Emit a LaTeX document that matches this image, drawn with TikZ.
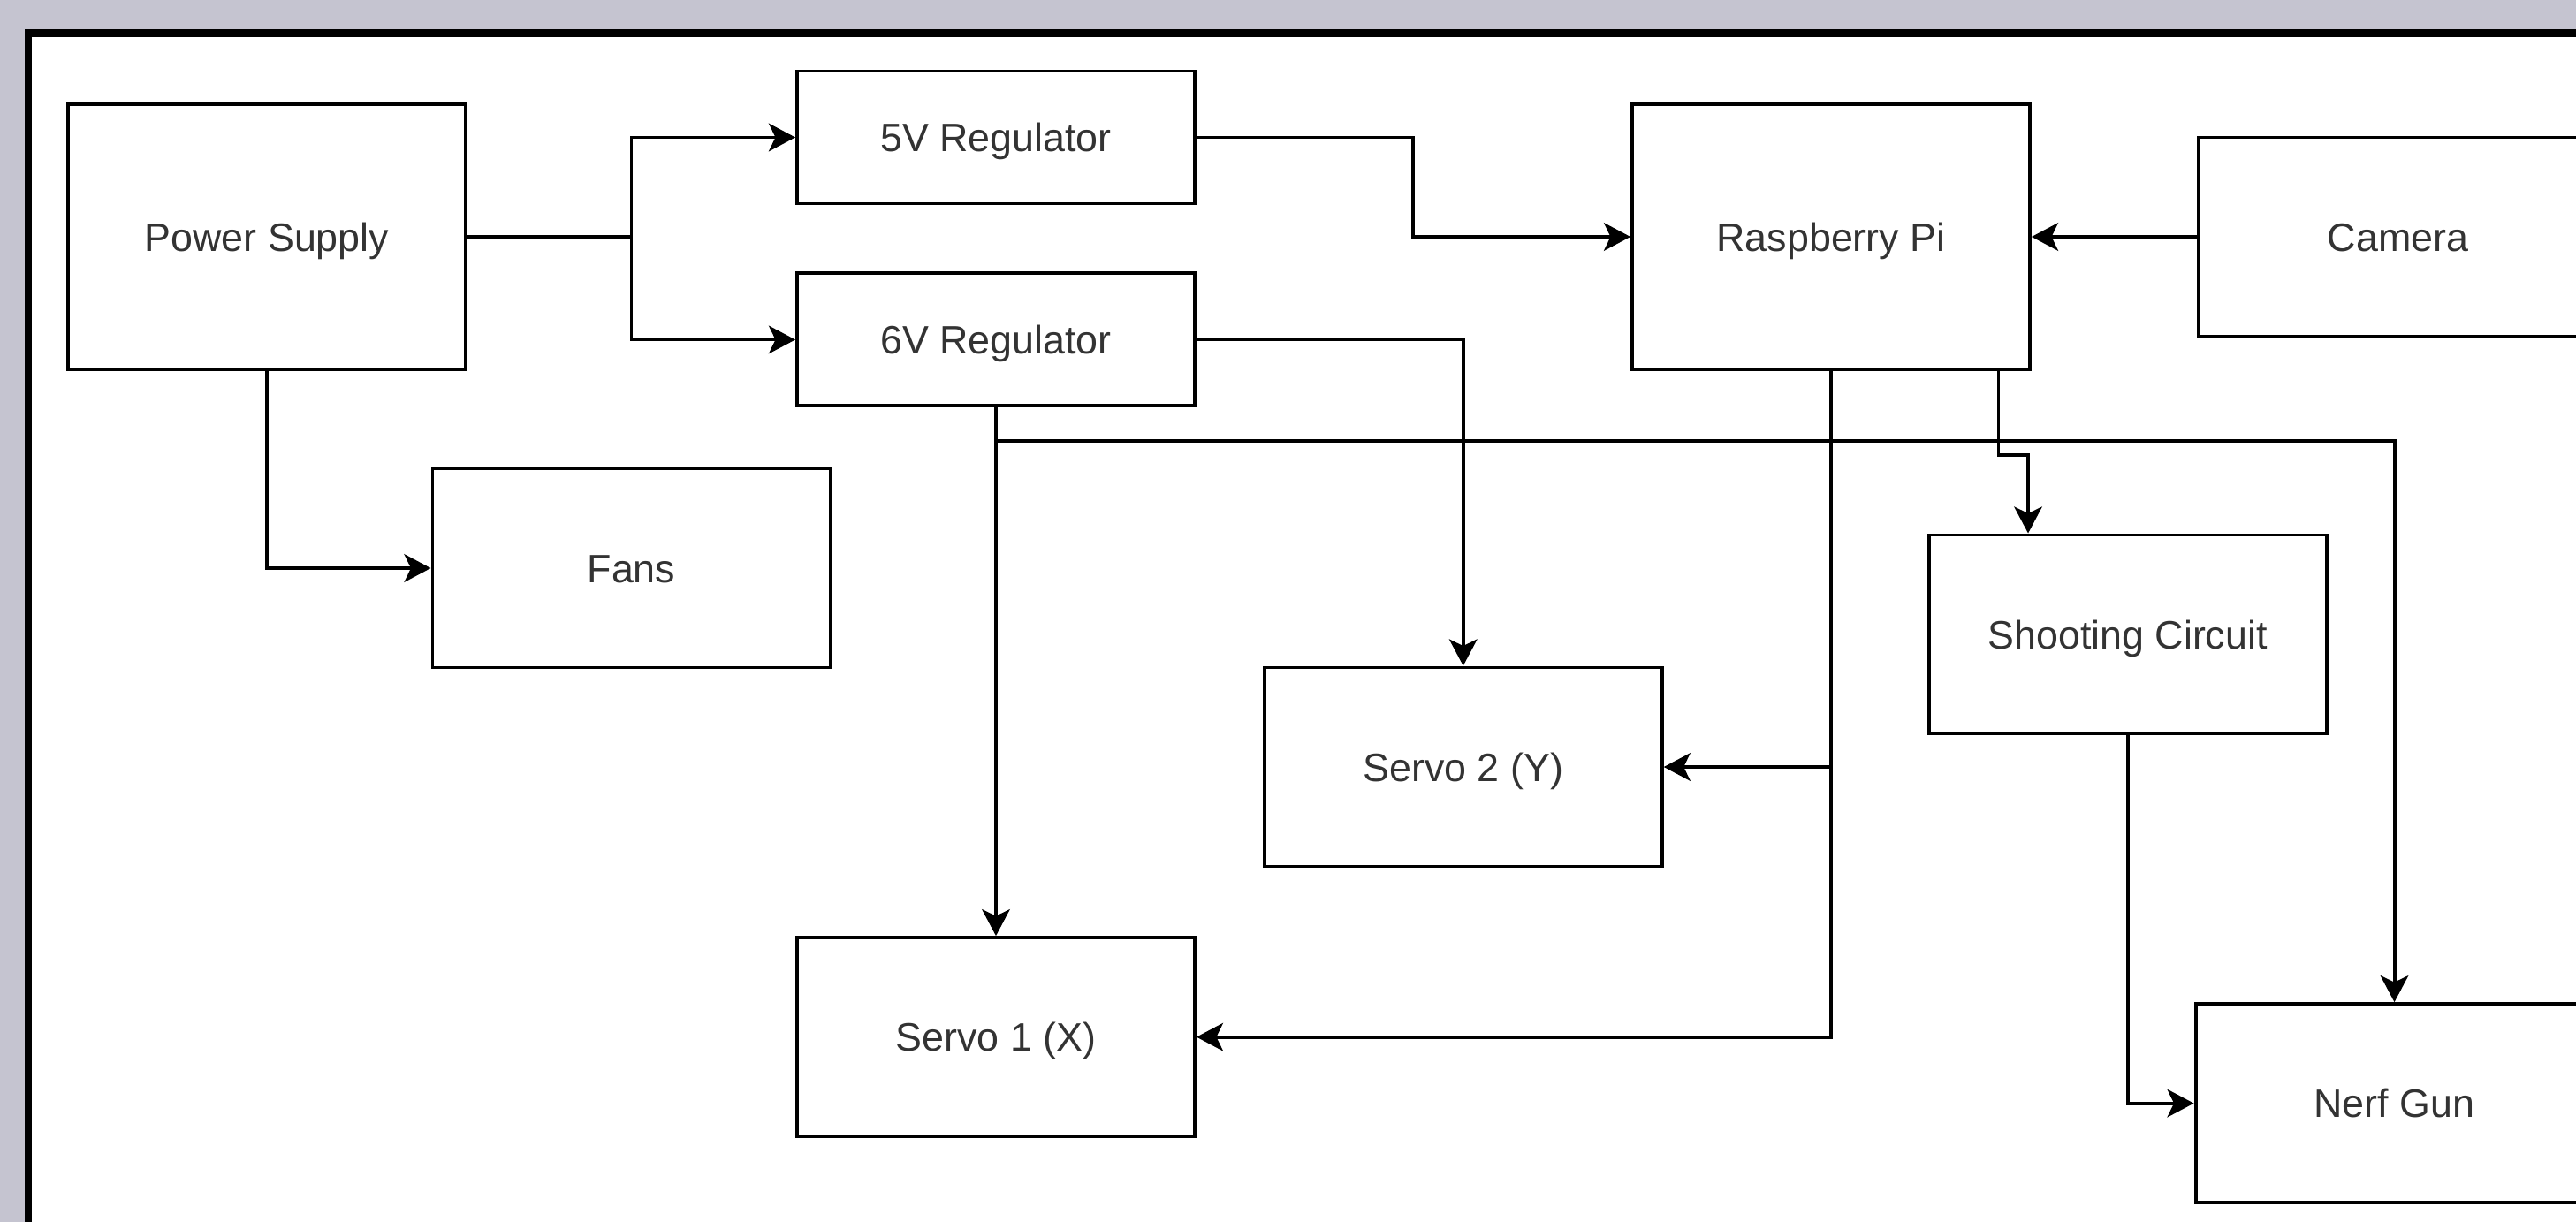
\documentclass[tikz,border=0pt]{standalone}
\usepackage{fontspec}
\setmainfont{Liberation Sans}
\usetikzlibrary{arrows.meta, positioning}
\definecolor{pagegrey}{RGB}{197,196,208}
\definecolor{labelgrey}{RGB}{51,51,51}

\begin{document}
\begin{tikzpicture}[
    x=0.05cm, y=-0.05cm,
    block/.style={rectangle, draw=black, line width=1.5pt, fill=white, minimum width=6cm, minimum height=3cm, align=center, text=labelgrey, font=\fontsize{17}{20}\selectfont, inner sep=0pt, text height=12.2pt, text depth=0pt},
    wire/.style={line width=1.5pt},
    arrow/.style={wire, -{Stealth[length=0.4cm, width=0.42cm, inset=0.1cm]}}
]

% page and frame
\path[use as bounding box, fill=pagegrey] (-20.53,-31.47) rectangle (756.8,337.3);
\clip (-20.53,-31.47) rectangle (756.8,337.3);
\draw[line width=3.2pt, fill=white] (-12,-21.5) rectangle (800,400);

\node[block, minimum height=4cm] (ps) at (60,40) {Power Supply};
\node[block, minimum height=2cm] (reg5) at (280,10) {5V Regulator};
\node[block, minimum height=2cm, below=1cm of reg5] (reg6) {6V Regulator};
\node[block, minimum height=4cm] (rpi) at (532,40) {Raspberry Pi};
\node[block, right=2.5cm of rpi] (cam) {Camera};
\node[block] (fans) at (170,140) {Fans};
\node[block] (shoot) at (621.5,160) {Shooting Circuit};
\node[block] (servo2) at (421,200) {Servo 2 (Y)};
\node[block] (servo1) at (280,281.5) {Servo 1 (X)};
\node[block] (nerf) at (702,301.5) {Nerf Gun};

\coordinate (split) at (170,40);
\coordinate (bend) at (405.75,10);

\draw[wire] (ps.east) -- (split);
\draw[arrow] (split) |- (reg5.west);
\draw[arrow] (split) |- (reg6.west);
\draw[arrow] (ps.south) |- (fans.west);
\draw[arrow] (reg5.east) -- (bend) |- (rpi.west);
\draw[arrow] (cam.west) -- (rpi.east);
\draw[arrow] (reg6.east) -| (servo2.north);
\draw[arrow] (reg6.south) -- (servo1.north);
\draw[arrow] (reg6.south) -- ++(0,10) -| (nerf.north);
\draw[arrow] ([xshift=-5mm]rpi.south east) -- ++(0,25.3) -| ([xshift=1.525cm]shoot.north west);

\foreach \a/\b in {rpi.south/servo2.east, rpi.south/servo1.east, shoot.south/nerf.west}
    \draw[arrow] (\a) |- (\b);

\end{tikzpicture}
\end{document}
